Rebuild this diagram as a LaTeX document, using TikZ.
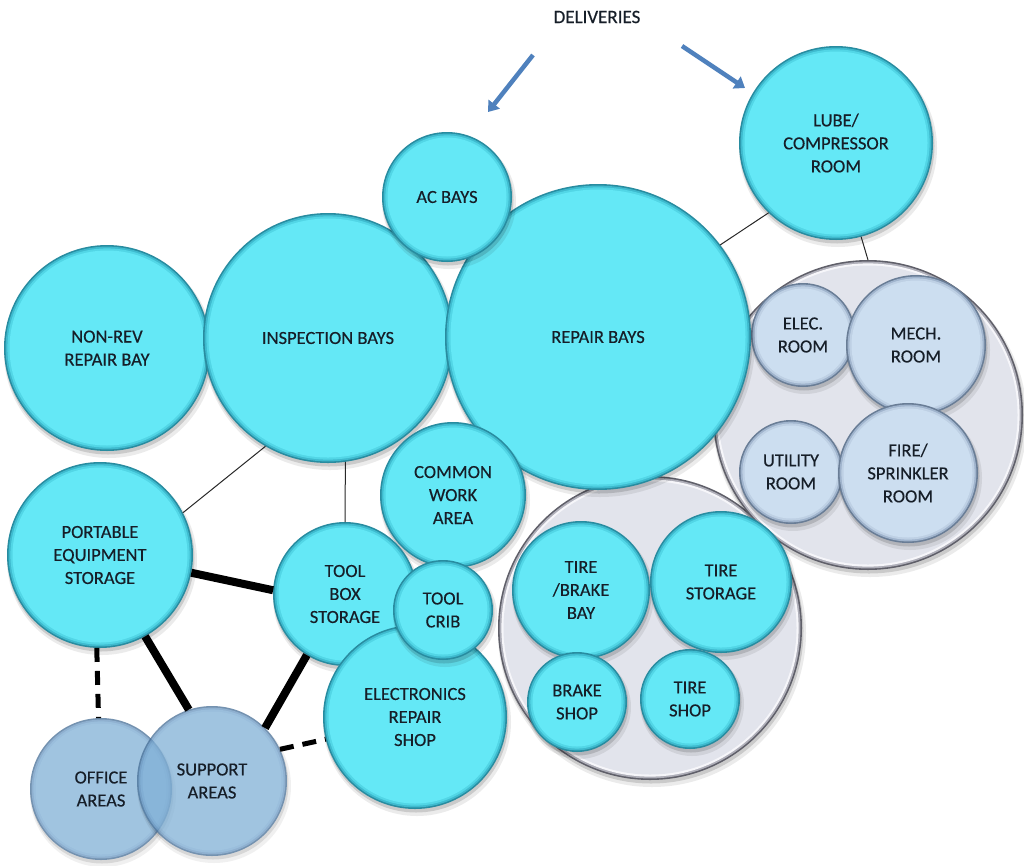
\documentclass[tikz,border=0pt]{standalone}
\usepackage{fontspec}
\setmainfont{Carlito}
\usetikzlibrary{arrows.meta}

% bubble palettes: A = outer rim, B/C = bevel, F = face
\definecolor{cyanA}{RGB}{40,140,160}
\definecolor{cyanB}{RGB}{62,186,206}
\definecolor{cyanC}{RGB}{82,214,230}
\definecolor{cyanF}{RGB}{100,232,246}
\definecolor{greyA}{RGB}{95,95,105}
\definecolor{greyB}{RGB}{175,175,185}
\definecolor{greyC}{RGB}{246,246,250}
\definecolor{greyF}{RGB}{226,228,236}
\definecolor{paleA}{RGB}{105,125,150}
\definecolor{paleB}{RGB}{160,180,205}
\definecolor{paleC}{RGB}{190,208,228}
\definecolor{paleF}{RGB}{204,222,240}
\definecolor{steelA}{RGB}{70,110,150}
\definecolor{steelB}{RGB}{105,150,192}
\definecolor{steelC}{RGB}{120,168,208}
\definecolor{steelF}{RGB}{128,176,214}
\definecolor{labelink}{RGB}{22,30,40}
\definecolor{linkgray}{RGB}{40,40,40}
\definecolor{arrowblue}{RGB}{79,129,189}

\tikzset{
  bubtext/.style={circle, inner sep=0pt, outer sep=0pt, align=center,
    text=labelink, font=\fontsize{18.5}{23}\selectfont\addfontfeature{FakeBold=0.35}},
  thinlink/.style={draw=linkgray, line width=1pt},
  heavylink/.style={draw=black, line width=8pt},
  dashlink/.style={draw=black, line width=5pt, dash pattern=on 14pt off 9pt},
  delivery/.style={draw=arrowblue, line width=4.5pt,
    -{Triangle[width=14pt,length=10pt]}},
}

% \bubble{palette}{name}{x}{y}{radius}{label}
\newcommand\bubble[6]{%
  \fill[black, opacity=.08] (#3+2,#4+5) circle[radius={(#5+2)*1pt}];
  \fill[black, opacity=.14] (#3+1,#4+3) circle[radius={(#5+0.5)*1pt}];
  \fill[#1A] (#3,#4) circle[radius={(#5)*1pt}];
  \fill[#1B] (#3,#4) circle[radius={(#5-1.6)*1pt}];
  \fill[#1C] (#3,#4) circle[radius={(#5-3.4)*1pt}];
  \fill[#1F] (#3,#4) circle[radius={(#5-5.5)*1pt}];
  \node[bubtext, minimum size={2*#5*1pt}] (#2) at (#3,#4) {#6};
}

\begin{document}
\begin{tikzpicture}[x=1pt, y=-1pt]
\useasboundingbox (0,0) rectangle (1024,865);

% grouped areas
\bubble{grey}{tiregroup}{650}{628}{152}{}
\bubble{grey}{utilgroup}{868}{415}{155}{}

% building services
\bubble{pale}{elecroom}{803}{335}{52}{ELEC.\\ROOM}
\bubble{pale}{mech}{916}{345}{70}{MECH.\\ROOM}
\bubble{pale}{utility}{791}{472}{52}{UTILITY\\ROOM}
\bubble{pale}{fire}{908}{473}{70}{FIRE/\\SPRINKLER\\ROOM}

% tire area
\bubble{cyan}{tirebay}{581}{590}{69}{TIRE\\/BRAKE\\BAY}
\bubble{cyan}{tirestore}{721}{582}{71}{TIRE\\STORAGE}
\bubble{cyan}{brakeshop}{577}{702}{50}{BRAKE\\SHOP}
\bubble{cyan}{tireshop}{690}{699}{50}{TIRE\\SHOP}

% main bays
\bubble{cyan}{nonrev}{107}{348}{103}{NON-REV\\REPAIR BAY}
\bubble{cyan}{insp}{328}{338}{125}{INSPECTION BAYS}
\bubble{cyan}{repair}{598}{337}{153}{REPAIR BAYS}
\bubble{cyan}{acbays}{447}{197}{65}{AC BAYS}
\bubble{cyan}{lube}{836}{143}{97}{LUBE/\\COMPRESSOR\\ROOM}

% shops and storage
\bubble{cyan}{port}{100}{555}{93}{PORTABLE\\EQUIPMENT\\STORAGE}
\bubble{cyan}{common}{453}{495}{73}{COMMON\\WORK\\AREA}
\bubble{cyan}{toolbox}{345}{594}{72}{TOOL\\BOX\\STORAGE}
\bubble{cyan}{elecshop}{415}{717}{92}{ELECTRONICS\\REPAIR\\SHOP}
\bubble{cyan}{crib}{443}{610}{50}{TOOL\\CRIB}

% offices (translucent, so the overlap reads darker)
\begin{scope}[transparency group, opacity=.75]
\bubble{steel}{office}{101}{789}{71}{}
\end{scope}
\begin{scope}[transparency group, opacity=.75]
\bubble{steel}{support}{212}{781}{75}{}
\end{scope}
\node[bubtext] at (office.center) {OFFICE\\AREAS};
\node[bubtext] at (support.center) {SUPPORT\\AREAS};

% adjacencies
\draw[thinlink] (insp.240) -- (port.27);
\draw[thinlink] (insp.278) -- (toolbox.90);
\draw[thinlink] (lube.226) -- (repair.37);
\draw[thinlink] (lube.285) -- (utilgroup.90);
\draw[heavylink] (port.349) -- (toolbox.177);
\draw[heavylink] (port.299) -- (support.108);
\draw[heavylink] (toolbox.238) -- (support.45);
\draw[dashlink] (port.268) -- (office.92);
\draw[dashlink] (support.25) -- (elecshop.194);

% deliveries
\node[text=labelink, font=\fontsize{19}{23}\selectfont\addfontfeature{FakeBold=0.35}] (deliv) at (597,17) {DELIVERIES};
\coordinate (dl0) at (533,55);
\coordinate (dl1) at (488,112);
\coordinate (dr0) at (682,46);
\coordinate (dr1) at (745,88);
\draw[delivery] (dl0) -- (dl1);
\draw[delivery] (dr0) -- (dr1);
\end{tikzpicture}
\end{document}
